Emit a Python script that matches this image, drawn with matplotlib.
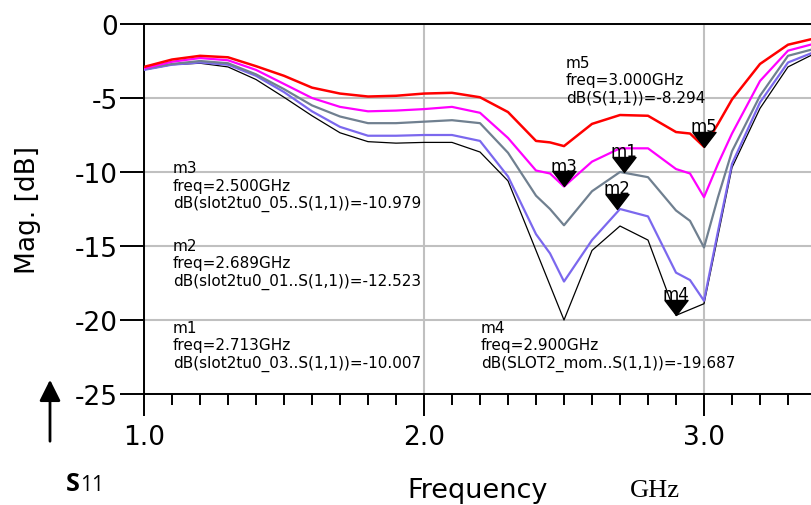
import numpy as np
import matplotlib.pyplot as plt
from matplotlib.path import Path
from matplotlib.ticker import MultipleLocator

# frequency sweep (GHz) for the smooth curves
freq = [1.0, 1.1, 1.2, 1.3, 1.4, 1.5, 1.6, 1.7, 1.8, 1.9, 2.0, 2.1, 2.2, 2.3, 2.4,
        2.45, 2.5, 2.6, 2.7, 2.8, 2.9, 2.95, 3.0, 3.05, 3.1, 3.2, 3.3, 3.4]
s11_red = [-2.9, -2.4, -2.15, -2.25, -2.85, -3.5, -4.3, -4.7, -4.9, -4.85, -4.7, -4.65, -4.95, -5.95, -7.9,
           -8.0, -8.25, -6.75, -6.15, -6.2, -7.3, -7.4, -8.294, -6.75, -5.1, -2.7, -1.4, -0.95]
s11_magenta = [-3.0, -2.55, -2.3, -2.45, -3.1, -4.05, -5.0, -5.6, -5.9, -5.85, -5.75, -5.6, -6.0, -7.7, -9.9,
               -10.1, -10.979, -9.3, -8.4, -8.4, -9.8, -10.1, -11.7, -9.45, -7.4, -3.85, -1.8, -1.3]
s11_gray = [-3.0, -2.7, -2.5, -2.65, -3.4, -4.4, -5.5, -6.25, -6.7, -6.7, -6.6, -6.5, -6.7, -8.7, -11.6,
            -12.5, -13.6, -11.3, -10.0, -10.35, -12.6, -13.3, -15.1, -11.7, -8.6, -4.85, -2.15, -1.65]
s11_blue = [-3.1, -2.75, -2.6, -2.75, -3.5, -4.6, -5.9, -6.95, -7.55, -7.55, -7.5, -7.5, -7.9, -10.3, -14.2,
            -15.5, -17.4, -14.6, -12.5, -13.0, -16.8, -17.3, -18.7, -14.0, -9.45, -5.3, -2.6, -1.85]

# coarse sweep for the SLOT2_mom curve
freq_mom = [1.0, 1.1, 1.2, 1.3, 1.4, 1.5, 1.6, 1.7, 1.8, 1.9, 2.0, 2.1, 2.2, 2.3, 2.4,
            2.5, 2.6, 2.7, 2.8, 2.9, 3.0, 3.1, 3.2, 3.3, 3.4]
s11_mom = [-3.1, -2.75, -2.65, -2.9, -3.75, -4.95, -6.2, -7.35, -7.95, -8.05, -8.0, -8.0, -8.65, -10.6, -15.3,
           -20.0, -15.3, -13.65, -14.6, -19.687, -18.9, -9.7, -5.7, -2.9, -1.95]

# markers
mk_names = ['m1', 'm2', 'm3', 'm4', 'm5']
mk_freq = [2.713, 2.689, 2.500, 2.900, 3.000]
mk_db = [-10.007, -12.523, -10.979, -19.687, -8.294]

# marker readouts: (x, top y, text)
readouts = [
    (1.104, -9.2, 'm3\nfreq=2.500GHz\ndB(slot2tu0_05..S(1,1))=-10.979'),
    (1.104, -14.45, 'm2\nfreq=2.689GHz\ndB(slot2tu0_01..S(1,1))=-12.523'),
    (1.104, -20.0, 'm1\nfreq=2.713GHz\ndB(slot2tu0_03..S(1,1))=-10.007'),
    (2.204, -20.0, 'm4\nfreq=2.900GHz\ndB(SLOT2_mom..S(1,1))=-19.687'),
    (2.507, -2.1, 'm5\nfreq=3.000GHz\ndB(S(1,1))=-8.294'),
]

W, H = 811, 506
fig = plt.figure(figsize=(W / 100, H / 100), dpi=100)
ax = fig.add_axes([144 / W, 1 - 395 / H, 1 - 144 / W, 370 / H])

ax.plot(freq_mom, s11_mom, color='black', lw=0.9, zorder=3)
ax.plot(freq, s11_blue, color='#7b68ee', lw=1.6, zorder=4)
ax.plot(freq, s11_gray, color='#708090', lw=1.6, zorder=5)
ax.plot(freq, s11_magenta, color='#ff00ff', lw=1.6, zorder=6)
ax.plot(freq, s11_red, color='#ff0000', lw=1.8, zorder=7)

# down-pointing triangle with its tip on the data point
tri = Path([(0, 0), (-0.77, 1), (0.77, 1), (0, 0)],
           [Path.MOVETO, Path.LINETO, Path.LINETO, Path.CLOSEPOLY])
for name, f, db in zip(mk_names, mk_freq, mk_db):
    ax.plot([f], [db], marker=tri, markersize=21.6, color='black', ls='none', zorder=10)
    ax.annotate(name, (f, db), xytext=(0, 11.5), textcoords='offset points',
                ha='center', va='baseline', fontsize=12, zorder=11)

for x, y, txt in readouts:
    ax.text(x, y, txt, ha='left', va='top', fontsize=11, linespacing=1.2, zorder=12)

ax.set_xlim(1.0, 1 + 667 / 280)
ax.set_ylim(-25, 0)
ax.set_xticks([1, 2, 3])
ax.set_xticklabels(['1.0', '2.0', '3.0'])
ax.xaxis.set_minor_locator(MultipleLocator(0.1))
ax.set_yticks([0, -5, -10, -15, -20, -25])
ax.set_yticklabels(['0', '-5', '-10', '-15', '-20', '-25'])
ax.grid(True, which='major', color='#c0c0c0', lw=1.5, zorder=0)

ax.tick_params(axis='x', which='major', length=15.8, width=1.4, pad=5.5, labelsize=19)
ax.tick_params(axis='x', which='minor', length=8, width=1.4)
ax.tick_params(axis='y', which='major', length=17.3, width=1.4, pad=1.5, labelsize=19)
ax.spines['right'].set_visible(False)
for s in ['left', 'top', 'bottom']:
    ax.spines[s].set_linewidth(1.4)

fig.text(28 / W, 1 - 210 / H, 'Mag. [dB]', rotation=90, ha='center', va='center', fontsize=19)
fig.text(407 / W, 1 - 498 / H, 'Frequency', ha='left', va='baseline', fontsize=19.5)
fig.text(630 / W, 1 - 497 / H, 'GHz', ha='left', va='baseline', fontsize=19, family='Liberation Serif')
fig.text(66 / W, 1 - 491 / H, 'S', ha='left', va='baseline', fontsize=18, fontweight='bold', family='Open Sans')
fig.text(80 / W, 1 - 491 / H, '11', ha='left', va='baseline', fontsize=15, family='Open Sans')

# arrow next to the S11 label
ax.annotate('', xy=(50 / W, 1 - 378 / H), xytext=(50 / W, 1 - 445 / H), xycoords='figure fraction',
            arrowprops=dict(arrowstyle='-|>', lw=2, color='black', mutation_scale=32),
            annotation_clip=False)

fig.savefig('out.png', dpi=100)
